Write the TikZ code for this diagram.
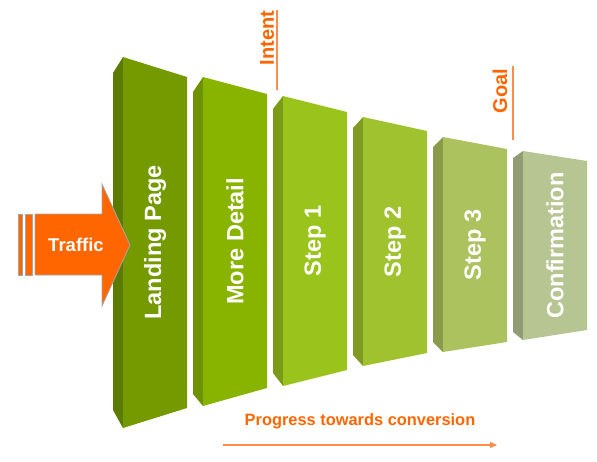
\documentclass[tikz,border=0pt]{standalone}
\usepackage{fontspec}
\setmainfont{Liberation Sans}
\usetikzlibrary{arrows.meta}
\definecolor{front1}{HTML}{749A00}
\definecolor{side1}{HTML}{5B7A00}
\definecolor{front2}{HTML}{88B400}
\definecolor{side2}{HTML}{6E9100}
\definecolor{front3}{HTML}{9AC31C}
\definecolor{side3}{HTML}{7B9A17}
\definecolor{front4}{HTML}{A0C22E}
\definecolor{side4}{HTML}{809A24}
\definecolor{front5}{HTML}{ACC25E}
\definecolor{side5}{HTML}{899A4A}
\definecolor{front6}{HTML}{B7C592}
\definecolor{side6}{HTML}{929C74}
\definecolor{traffic}{HTML}{FF6600}
\definecolor{markcol}{HTML}{FF8C4A}
\tikzset{
  orangetext/.style={text=traffic,font=\bfseries\fontsize{#1}{#1}\selectfont},
  markline/.style={draw=markcol,line width=1.2pt}
}
\begin{document}
\begin{tikzpicture}[x=1pt,y=-1pt]
\useasboundingbox (0,0) rectangle (597,461);
\foreach \x/\tl/\tr/\bl/\br/\st/\sb/\c/\t in {
  123/57/77/428/408/73/410/1/Landing Page,
  203/77/94/406/388/92/394/2/More Detail,
  283/96/112/386/370/109/373/3/Step 1,
  363/117/131/366/353/128/355/4/Step 2,
  443/137/149/352/342/147/342/5/Step 3,
  523/151/161/340/330/158/332/6/Confirmation} {
  \fill[side\c] (\x-10,\st) -- (\x,\tl) -- (\x,\bl) -- (\x-10,\sb) -- cycle;
  \fill[front\c] (\x,\tl) -- (\x+64,\tr) -- (\x+64,\br) -- (\x,\bl) -- cycle;
  \node[rotate=90,text=white,font=\bfseries\fontsize{23.5}{26}\selectfont] (bar\c) at (\x+32,{(\tl+\tr+\bl+\br)/4}) {\t};
}
\draw[gray!70,line width=0.8pt,fill=traffic] (35,214) -- (102,214) -- (102,184) -- (130,245) -- (102,306) -- (102,275) -- (35,275) -- cycle;
\draw[gray!70,line width=0.8pt,fill=traffic] (18.3,214) rectangle (22.7,275);
\draw[gray!70,line width=0.8pt,fill=traffic] (25,214) rectangle (32,275);
\node[text=white,font=\bfseries\fontsize{18.5}{18.5}\selectfont] (traffic) at (76,245) {Traffic};
\node[orangetext=20,rotate=90] (intent) at (267,38) {Intent};
\coordinate (intenttop) at (277,10);
\coordinate (intentbot) at (277,90);
\draw[markline] (intenttop) -- (intentbot);
\node[orangetext=20,rotate=90] (goal) at (500,91) {Goal};
\coordinate (goaltop) at (513,66);
\coordinate (goalbot) at (513,140);
\draw[markline] (goaltop) -- (goalbot);
\node[orangetext=16.4] (progress) at (360,421) {Progress towards conversion};
\coordinate (pstart) at (223,445);
\coordinate (pend) at (497,445);
\draw[markline,-{Triangle[length=7pt,width=6pt]}] (pstart) -- (pend);
\end{tikzpicture}
\end{document}
